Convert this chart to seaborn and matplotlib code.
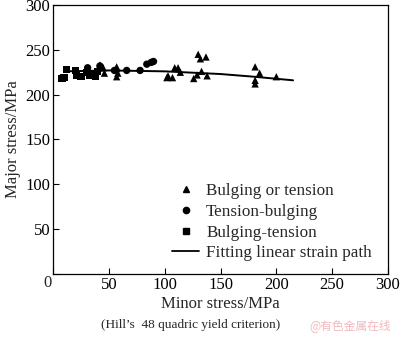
import matplotlib
matplotlib.use("Agg")
import matplotlib.pyplot as plt
import seaborn as sns
import pandas as pd

sns.set_style("ticks")
plt.rcParams['font.family'] = ['Liberation Serif', 'DejaVu Serif']
plt.rcParams['mathtext.fontset'] = 'stix'

# Bulging or tension (triangles)
tri_x = [42, 45, 46, 57, 57, 57, 58, 102, 103, 107, 109, 112, 114, 126, 129, 130, 132, 133, 137, 138, 181, 181, 181, 185, 200]
tri_y = [233, 230, 224, 231, 229, 220, 224, 219, 221, 219, 230, 230, 225, 218, 222, 245, 240, 226, 242, 221, 231, 216, 212, 224, 220]
# Tension-bulging (circles)
cir_x = [31, 42, 55, 66, 78, 84, 88, 90]
cir_y = [230, 232, 227, 227, 227, 234, 236, 237]
# Bulging-tension (squares)
sq_x = [8, 10, 12, 20, 21, 25, 30, 33, 38, 40]
sq_y = [218, 219, 228, 227, 222, 220, 225, 222, 221, 226]
# Fitting linear strain path
fit_x = [10, 50, 100, 150, 180, 215]
fit_y = [226, 227, 226, 223, 220, 216]

labels = ["Bulging or tension", "Tension-bulging", "Bulging-tension", "Fitting linear strain path"]

df = pd.concat([
    pd.DataFrame({"x": tri_x, "y": tri_y, "type": labels[0]}),
    pd.DataFrame({"x": cir_x, "y": cir_y, "type": labels[1]}),
    pd.DataFrame({"x": sq_x, "y": sq_y, "type": labels[2]}),
])
fit = pd.DataFrame({"x": fit_x, "y": fit_y})

fig = plt.figure(figsize=(4.0, 3.44), dpi=100)
ax = fig.add_axes([0.1325, 0.2035, 0.8375, 0.782])

sns.scatterplot(data=df, x="x", y="y", style="type", hue="type",
                markers={labels[0]: "^", labels[1]: "o", labels[2]: "s"},
                palette={labels[0]: "black", labels[1]: "black", labels[2]: "black"},
                s=28, edgecolor="black", linewidth=0, ax=ax, legend=False)
sns.lineplot(data=fit, x="x", y="y", color="black", linewidth=1.4, ax=ax)

ax.set_xlim(0, 300)
ax.set_ylim(0, 300)
ax.set_xticks([0, 50, 100, 150, 200, 250, 300])
ax.set_xticklabels(["", "50", "100", "150", "200", "250", "300"])
ax.set_yticks([0, 50, 100, 150, 200, 250, 300])
ax.set_yticklabels(["", "50", "100", "150", "200", "250", "300"])
ax.tick_params(direction="in", length=4, width=0.8, labelsize=12, pad=2, colors="black")
for sp in ax.spines.values():
    sp.set_linewidth(0.9)
    sp.set_color("black")
ax.set_xlabel("Minor stress/MPa", fontsize=12, labelpad=2)
ax.set_ylabel("Major stress/MPa", fontsize=12, labelpad=3)
fig.text(48/400, 1 - 283/344, "0", fontsize=12, ha="center", va="center")

from matplotlib.lines import Line2D
handles = [
    Line2D([], [], marker="^", color="black", linestyle="none", markersize=4.5),
    Line2D([], [], marker="o", color="black", linestyle="none", markersize=4.5),
    Line2D([], [], marker="s", color="black", linestyle="none", markersize=4),
    Line2D([], [], color="black", linewidth=1.3),
]
ax.legend(handles, labels, loc="upper left", bbox_to_anchor=(172/400, 1 - 183/344),
          bbox_transform=fig.transFigure, frameon=False, fontsize=12.3,
          handlelength=1.6, handletextpad=0.4, labelspacing=0.28, borderpad=0, borderaxespad=0)

fig.text(191/400, 1 - 325/344, "(Hill\u2019s  48 quadric yield criterion)", fontsize=9.5,
         ha="center", va="center")
fig.text(350/400, 1 - 326/344, "@有色金属在线", fontsize=8.5, color="#f2b8c0",
         ha="center", va="center", family=["Noto Sans CJK SC", "DejaVu Sans"])

fig.savefig("out.png", dpi=100)
